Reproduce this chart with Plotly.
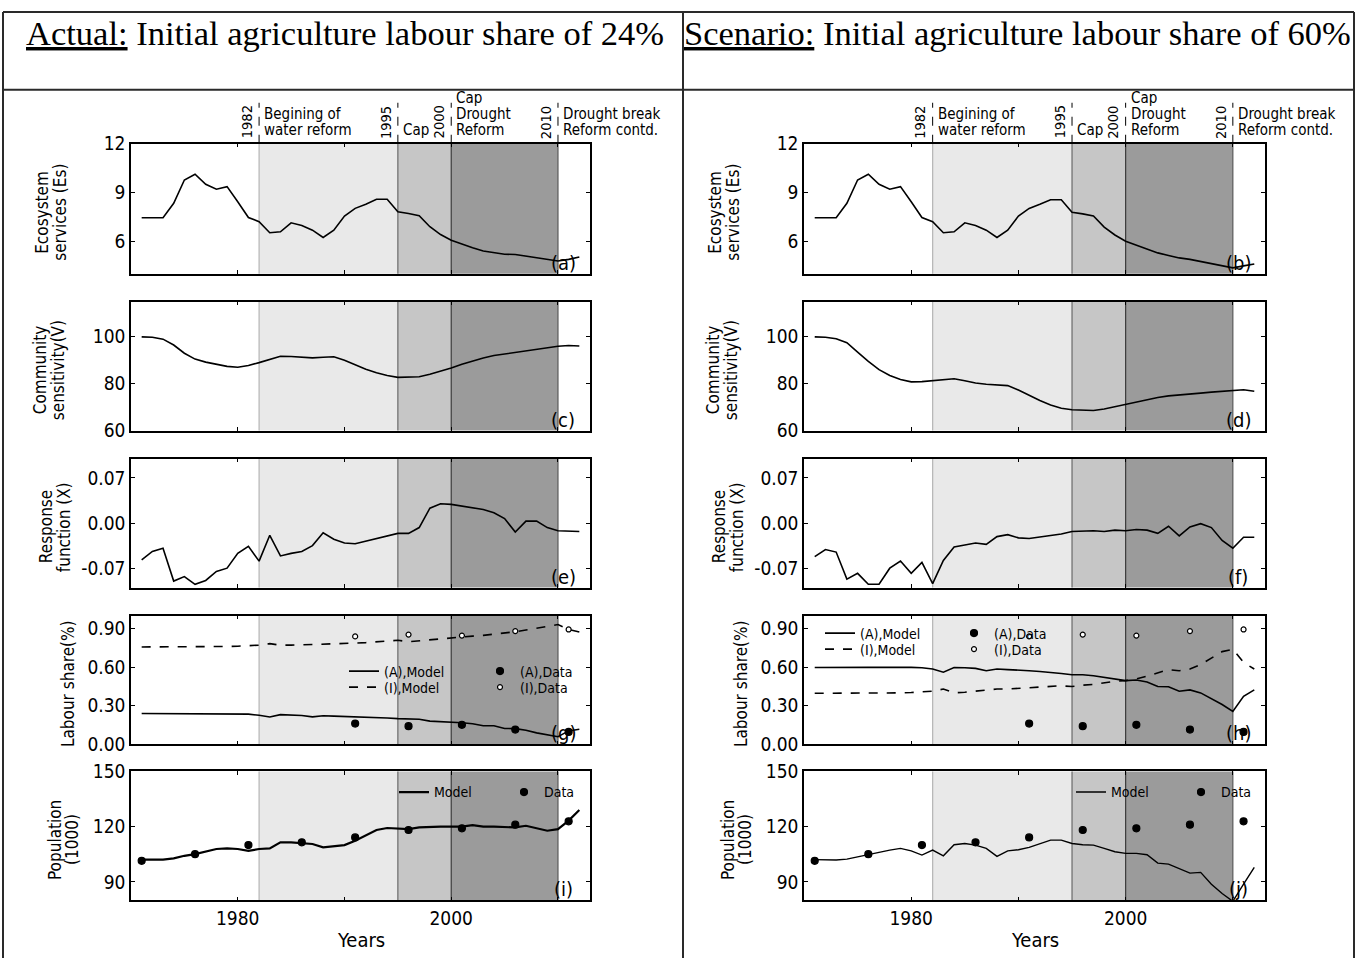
import plotly.graph_objects as go

# ---------------- data ----------------
YEARS = list(range(1971, 2013))
CENSUS_YEARS = [1971, 1976, 1981, 1986, 1991, 1996, 2001, 2006, 2011]
LABOUR_DATA_YEARS = [1991, 1996, 2001, 2006, 2011]

ES_ACTUAL = [7.44, 7.44, 7.44, 8.33, 9.77, 10.12, 9.5, 9.2, 9.36, 8.43,
             7.46, 7.2, 6.52, 6.58, 7.13, 6.97, 6.68, 6.23, 6.68, 7.55,
             8.02, 8.27, 8.58, 8.58, 7.81, 7.71, 7.57, 6.89, 6.41, 6.06,
             5.81, 5.6, 5.4, 5.3, 5.2, 5.18, 5.07, 4.97, 4.87, 4.78,
             4.88, 5.03]
ES_SCEN = [7.44, 7.44, 7.44, 8.33, 9.77, 10.12, 9.5, 9.2, 9.36, 8.43,
           7.46, 7.2, 6.52, 6.58, 7.13, 6.97, 6.68, 6.23, 6.68, 7.55,
           8.02, 8.27, 8.55, 8.55, 7.78, 7.68, 7.55, 6.87, 6.38, 6.0,
           5.75, 5.5, 5.28, 5.12, 4.97, 4.88, 4.75, 4.6, 4.48, 4.36,
           4.48, 4.6]

V_ACTUAL = [100.0, 99.8, 99.0, 96.5, 93.0, 90.5, 89.2, 88.2, 87.4, 87.0,
            87.8, 89.0, 90.5, 91.7, 91.6, 91.2, 91.0, 91.3, 91.5, 90.0,
            88.0, 86.2, 84.7, 83.5, 82.7, 82.7, 83.0, 84.0, 85.2, 86.7,
            88.3, 89.7, 91.0, 92.0, 92.7, 93.3, 94.0, 94.7, 95.4, 96.0,
            96.3, 96.1]
V_SCEN = [100.0, 99.8, 99.2, 97.5, 93.5, 89.5, 86.0, 83.5, 81.8, 80.8,
          80.9, 81.2, 81.7, 82.1, 81.3, 80.3, 79.8, 79.6, 79.2, 77.3,
          74.9, 72.8, 70.9, 69.5, 68.9, 68.7, 68.6, 69.2, 70.2, 71.3,
          72.3, 73.2, 74.1, 74.8, 75.3, 75.7, 76.0, 76.4, 76.8, 77.0,
          77.4, 76.8]

X_ACTUAL = [-0.057, -0.044, -0.039, -0.090, -0.083, -0.095, -0.089, -0.075, -0.070, -0.047,
            -0.036, -0.059, -0.019, -0.051, -0.047, -0.044, -0.035, -0.015, -0.025, -0.031,
            -0.032, -0.028, -0.024, -0.021, -0.016, -0.016, -0.007, 0.023, 0.030, 0.029,
            0.026, 0.024, 0.021, 0.016, 0.007, -0.014, 0.003, 0.003, -0.007, -0.012,
            -0.013, -0.013]
X_SCEN = [-0.052, -0.041, -0.045, -0.087, -0.078, -0.095, -0.095, -0.070, -0.059, -0.078,
          -0.061, -0.094, -0.058, -0.037, -0.034, -0.031, -0.033, -0.021, -0.018, -0.023,
          -0.024, -0.022, -0.019, -0.017, -0.013, -0.012, -0.012, -0.013, -0.011, -0.012,
          -0.010, -0.011, -0.016, -0.005, -0.020, -0.006, -0.001, -0.007, -0.027, -0.039,
          -0.022, -0.022]

LA_ACTUAL = [0.240, 0.240, 0.240, 0.240, 0.240, 0.240, 0.240, 0.239, 0.238, 0.237,
             0.235, 0.226, 0.213, 0.231, 0.228, 0.225, 0.214, 0.222, 0.220, 0.218,
             0.215, 0.212, 0.208, 0.205, 0.200, 0.199, 0.195, 0.181, 0.178, 0.170,
             0.168, 0.160, 0.145, 0.145, 0.124, 0.123, 0.110, 0.090, 0.075, 0.060,
             0.105, 0.118]
LI_ACTUAL = [0.756, 0.756, 0.756, 0.756, 0.756, 0.756, 0.757, 0.758, 0.760, 0.762,
             0.765, 0.770, 0.782, 0.770, 0.770, 0.772, 0.775, 0.778, 0.780, 0.783,
             0.786, 0.790, 0.795, 0.800, 0.808, 0.797, 0.805, 0.812, 0.820, 0.828,
             0.832, 0.840, 0.846, 0.855, 0.865, 0.874, 0.888, 0.903, 0.915, 0.930,
             0.892, 0.872]
LA_SCEN = [0.597, 0.598, 0.600, 0.600, 0.600, 0.598, 0.598, 0.600, 0.600, 0.598,
           0.595, 0.585, 0.560, 0.597, 0.595, 0.590, 0.572, 0.585, 0.580, 0.578,
           0.572, 0.566, 0.560, 0.550, 0.541, 0.540, 0.533, 0.520, 0.508, 0.495,
           0.500, 0.485, 0.449, 0.447, 0.413, 0.423, 0.400, 0.354, 0.310, 0.256,
           0.374, 0.423]
LI_SCEN = [0.397, 0.397, 0.398, 0.398, 0.398, 0.398, 0.397, 0.397, 0.400, 0.403,
           0.408, 0.413, 0.430, 0.400, 0.405, 0.415, 0.425, 0.430, 0.430, 0.435,
           0.440, 0.445, 0.450, 0.455, 0.449, 0.460, 0.465, 0.480, 0.490, 0.495,
           0.508, 0.530, 0.555, 0.580, 0.572, 0.585, 0.620, 0.670, 0.720, 0.738,
           0.636, 0.585]
LA_DATA = [0.162, 0.142, 0.152, 0.115, 0.097]
LI_DATA = [0.838, 0.852, 0.844, 0.879, 0.892]

POP_ACTUAL = [102.1, 102.1, 102.1, 102.8, 104.2, 105.1, 106.4, 107.9, 108.2, 107.9,
              106.9, 107.9, 108.2, 111.5, 111.5, 110.9, 110.6, 108.8, 109.3, 110.0,
              112.4, 115.5, 118.2, 119.3, 119.1, 118.7, 119.6, 120.0, 120.0, 120.0,
              120.0, 120.9, 120.0, 120.0, 120.0, 119.6, 120.5, 119.1, 117.8, 118.7,
              123.3, 129.1]
POP_SCEN = [102.1, 102.1, 101.9, 102.4, 103.7, 104.8, 106.0, 107.3, 108.2, 106.9,
            104.6, 107.3, 104.2, 110.2, 110.9, 110.0, 108.2, 103.9, 106.9, 107.5,
            108.8, 110.9, 112.7, 112.7, 110.9, 110.2, 110.0, 108.2, 106.4, 105.5,
            105.5, 104.8, 100.2, 99.7, 97.3, 94.8, 95.2, 88.8, 83.7, 79.5,
            88.8, 97.9]
POP_DATA = [101.5, 105.1, 110.0, 111.5, 114.2, 118.2, 119.1, 121.1, 122.9]

PERIOD_EDGES = [1982, 1995, 2000, 2010]
PERIOD_LABELS = [["Begining of", "water reform"], ["Cap"], ["Cap", "Drought", "Reform"],
                 ["Drought break", "Reform contd."]]
SPAN_COLORS = ["#e9e9e9", "#c6c6c6", "#9b9b9b"]
EDGE_COLORS = ["#b5b5b5", "#6a6a6a", "#3a3a3a", "#5a5a5a"]

TITLES = ["Actual:", "Scenario:"]
TITLE_REST = [" Initial agriculture labour share of 24%", " Initial agriculture labour share of 60%"]
Y_TITLES = [["Ecosystem", "services (Es)"], ["Community", "sensitivity(V)"],
            ["Response", "function (X)"], ["Labour share(%)"], ["Population", "(1000)"]]
PANEL_TAGS = [["(a)", "(b)"], ["(c)", "(d)"], ["(e)", "(f)"], ["(g)", "(h)"], ["(i)", "(j)"]]

# ---------------- layout geometry (reference pixels) ----------------
W, H = 1356, 958
FONT = "DejaVu Sans Condensed, DejaVu Sans, sans-serif"
SERIF = "Liberation Serif, Times New Roman, serif"
COL_X = [(131, 590), (804, 1265)]
ROW_Y = [(143, 273), (301, 430), (458, 587), (615, 744), (771, 900)]
Y_RANGES = [[4, 12], [60, 115], [-0.1, 0.1], [0, 1.0], [80, 150]]
Y_TICKS = [[6, 9, 12], [60, 80, 100], [-0.07, 0.0, 0.07], [0.0, 0.3, 0.6, 0.9], [90, 120, 150]]
Y_TICKTEXT = [["6", "9", "12"], ["60", "80", "100"], ["-0.07", "0.00", "0.07"],
              ["0.00", "0.30", "0.60", "0.90"], ["90", "120", "150"]]
Y_TITLE_X = [[-89, -71], [-91, -73], [-85, -67], [-63], [-76, -59]]

# vertical calibration of the capture (measured from previous renders)
VOFF, VSC = 10.2, 0.9775


def PX(p):
    return p / W


def PY(p):
    return 1 - ((p - VOFF) / VSC) / H


def VS(d):
    return d / VSC


fig = go.Figure()


def sfx(k):
    return "" if k == 1 else str(k)


def ax_id(r, c):
    return r * 2 + c + 1


def line_tr(k, y, dash="solid", width=1.6, name=None, legend=None, show=False):
    return go.Scatter(x=YEARS, y=y, mode="lines", xaxis=f"x{sfx(k)}", yaxis=f"y{sfx(k)}",
                      line=dict(color="black", width=width, dash=dash),
                      name=name, showlegend=show, legend=legend)


def pts_tr(k, xs, y, open_=False, size=7, name=None, legend=None, show=False):
    return go.Scatter(x=xs, y=y, mode="markers", xaxis=f"x{sfx(k)}", yaxis=f"y{sfx(k)}",
                      marker=dict(color="white" if open_ else "black", size=size,
                                  symbol="circle",
                                  line=dict(color="black", width=1.2)),
                      name=name, showlegend=show, legend=legend)


series = [(ES_ACTUAL, ES_SCEN), (V_ACTUAL, V_SCEN), (X_ACTUAL, X_SCEN)]
for r, (s0, s1) in enumerate(series):
    fig.add_trace(line_tr(ax_id(r, 0), s0))
    fig.add_trace(line_tr(ax_id(r, 1), s1))

# labour share
lab = [(LA_ACTUAL, LI_ACTUAL), (LA_SCEN, LI_SCEN)]
for c in range(2):
    k = ax_id(3, c)
    b = 4 * c
    fig.add_trace(line_tr(k, lab[c][0], name="(A),Model",
                          legend="legend" if b == 0 else f"legend{b + 1}", show=True))
    fig.add_trace(line_tr(k, lab[c][1], dash="dash", name="(I),Model",
                          legend=f"legend{b + 2}", show=True))
    fig.add_trace(pts_tr(k, LABOUR_DATA_YEARS, LA_DATA, name="(A),Data",
                         legend=f"legend{b + 3}", show=True))
    fig.add_trace(pts_tr(k, LABOUR_DATA_YEARS, LI_DATA, open_=True, size=5,
                         name="(I),Data", legend=f"legend{b + 4}", show=True))

# population
pops = [POP_ACTUAL, POP_SCEN]
for c in range(2):
    k = ax_id(4, c)
    fig.add_trace(line_tr(k, pops[c], width=2.2 if c == 0 else 1.4,
                          name="Model", legend=f"legend{9 + 2 * c}", show=True))
    fig.add_trace(pts_tr(k, CENSUS_YEARS, POP_DATA, name="Data",
                         legend=f"legend{10 + 2 * c}", show=True))

shapes = []
annotations = []
layout = {}
TICKF = dict(family=FONT, size=19, color="black")

for r in range(5):
    for c in range(2):
        k = ax_id(r, c)
        s = sfx(k)
        x0, x1 = COL_X[c]
        y0, y1 = ROW_Y[r]
        bottom = (r == 4)
        layout[f"xaxis{s}"] = dict(
            domain=[PX(x0), PX(x1)], anchor=f"y{s}", range=[1970, 2013],
            showline=True, linecolor="black", linewidth=1.5, mirror="ticks",
            ticks="inside", ticklen=4, tickcolor="black",
            tickvals=[1970, 1980, 1990, 2000, 2010],
            ticktext=["", "1980", "", "2000", ""],
            showticklabels=bottom, showgrid=False, zeroline=False, tickfont=TICKF,
        )
        layout[f"yaxis{s}"] = dict(
            domain=[PY(y1), PY(y0)], anchor=f"x{s}", range=Y_RANGES[r],
            showline=True, linecolor="black", linewidth=1.5, mirror="ticks",
            ticks="inside", ticklen=4, tickcolor="black",
            tickvals=Y_TICKS[r], ticktext=Y_TICKTEXT[r],
            showgrid=False, zeroline=False, tickfont=TICKF,
        )
        for i in range(3):
            shapes.append(dict(type="rect", xref=f"x{s}", yref=f"y{s} domain",
                               x0=PERIOD_EDGES[i], x1=PERIOD_EDGES[i + 1], y0=0, y1=1,
                               fillcolor=SPAN_COLORS[i], line=dict(width=0), layer="below"))
        for i, e in enumerate(PERIOD_EDGES):
            shapes.append(dict(type="line", xref=f"x{s}", yref=f"y{s} domain",
                               x0=e, x1=e, y0=0, y1=1,
                               line=dict(color=EDGE_COLORS[i], width=1.2), layer="below"))
        for j, txt in enumerate(Y_TITLES[r]):
            annotations.append(dict(text=txt, xref=f"x{s} domain", yref=f"y{s} domain",
                                    x=0, y=0.5, xshift=Y_TITLE_X[r][j], yshift=VS(-4),
                                    textangle=-90, showarrow=False,
                                    xanchor="center", yanchor="middle",
                                    font=dict(family=FONT, size=17, color="black")))
        annotations.append(dict(text=PANEL_TAGS[r][c], xref=f"x{s}", yref=f"y{s} domain",
                                x=2010.5, y=0, xanchor="center", yanchor="bottom", yshift=-3,
                                showarrow=False, font=dict(family=FONT, size=20, color="black")))
        if bottom:
            annotations.append(dict(text="Years", xref=f"x{s} domain", yref="paper",
                                    x=0.5, y=PY(940), xanchor="center", yanchor="middle",
                                    showarrow=False, font=dict(family=FONT, size=20, color="black")))
        if r == 0:
            for i, e in enumerate(PERIOD_EDGES):
                shapes.append(dict(type="line", xref=f"x{s}", yref=f"y{s} domain",
                                   x0=e, x1=e, y0=1, y1=1 + 41 / 130,
                                   line=dict(color="black", width=1, dash="dash")))
                annotations.append(dict(text=str(e), xref=f"x{s}", yref=f"y{s} domain",
                                        x=e, y=1.0, xshift=-2, yshift=VS(3), textangle=-90,
                                        xanchor="right", yanchor="bottom", showarrow=False,
                                        font=dict(family=FONT, size=14.5, color="black")))
                lines = PERIOD_LABELS[i]
                for j, txt in enumerate(reversed(lines)):
                    annotations.append(dict(text=txt, xref=f"x{s}", yref=f"y{s} domain",
                                            x=e, y=1.0, xshift=3, yshift=VS(13 + 16 * j),
                                            xanchor="left", yanchor="middle", showarrow=False,
                                            font=dict(family=FONT, size=15, color="black")))

# table lines (the bottom edge of the table runs off the page, as in the reference)
LC = "#2a2a2a"
for xv in (3, 683, 1354):
    shapes.append(dict(type="line", xref="paper", yref="paper", x0=PX(xv), x1=PX(xv),
                       y0=-0.05, y1=1 - 1 / H, line=dict(color=LC, width=2)))
shapes.append(dict(type="line", xref="paper", yref="paper", x0=PX(3), x1=PX(1354),
                   y0=1 - 1 / H, y1=1 - 1 / H, line=dict(color=LC, width=2)))
shapes.append(dict(type="line", xref="paper", yref="paper", x0=PX(3), x1=PX(1354),
                   y0=PY(89), y1=PY(89), line=dict(color=LC, width=2)))

TITLE_CX = [345, 1017]
for c in range(2):
    annotations.append(dict(
        text=f"<span style='text-decoration:underline'>{TITLES[c]}</span>{TITLE_REST[c]}",
        xref="paper", yref="paper", x=PX(TITLE_CX[c]), y=PY(32),
        xanchor="center", yanchor="middle", showarrow=False,
        font=dict(family=SERIF, size=34.5, color="black")))

# legends: (text start x, row centre y) in reference pixels
LEG_POS = [(384, 671), (384, 687), (520, 671), (520, 687),
           (860, 633), (860, 649), (994, 633), (994, 649),
           (434, 792), (544, 792), (1111, 792), (1221, 792)]
for i, (tx, ty) in enumerate(LEG_POS):
    name = "legend" if i == 0 else f"legend{i + 1}"
    layout[name] = dict(bgcolor="rgba(0,0,0,0)", borderwidth=0, tracegroupgap=0,
                        itemwidth=30, xanchor="left", yanchor="middle", orientation="v",
                        x=PX(tx - 40), y=PY(ty),
                        font=dict(family=FONT, size=14, color="black"))

fig.update_layout(
    width=W, height=H, margin=dict(l=0, r=0, t=0, b=0),
    paper_bgcolor="white", plot_bgcolor="white",
    shapes=shapes, annotations=annotations, **layout,
)

fig.write_html("out.html", config={"displayModeBar": False},
               post_script="document.body.style.margin='0';document.body.style.overflow='hidden';")
